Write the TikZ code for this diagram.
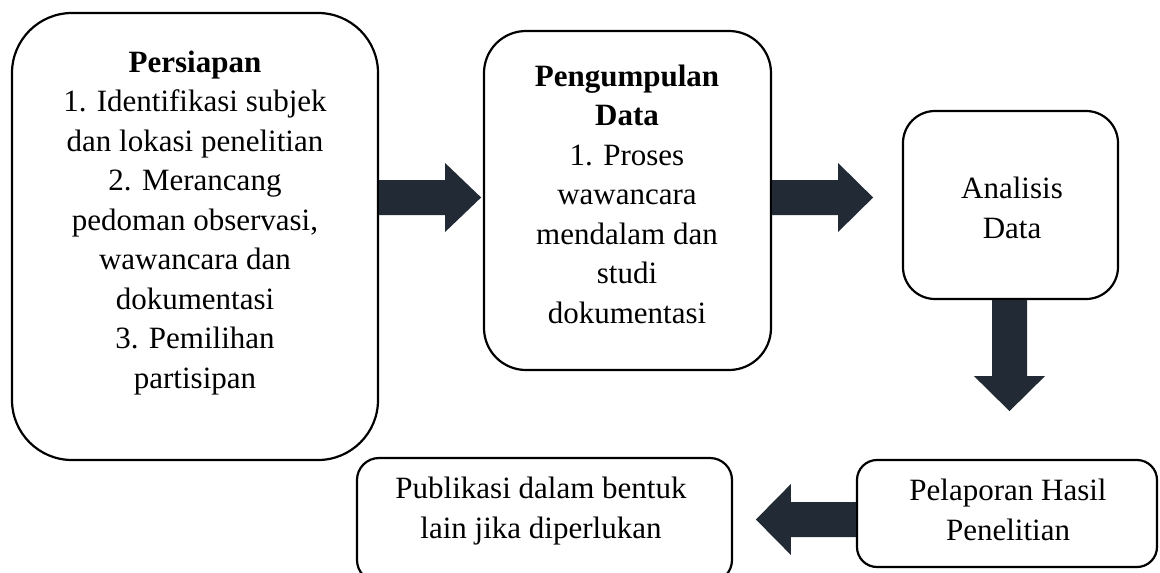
\documentclass[tikz,border=0pt]{standalone}
\usepackage{fontspec}
\setmainfont{Liberation Serif}
\usetikzlibrary{calc}
\definecolor{arrowfill}{HTML}{222A35}
\begin{document}
\begin{tikzpicture}[x=1pt,y=-1pt,
  box/.style={draw, line width=2.2pt, inner sep=0pt},
  txt/.style={align=center, font=\fontsize{31}{39.5}\selectfont, inner sep=0pt},
  bigarrow/.style={fill=arrowfill, draw=none}]
\useasboundingbox (0,0) rectangle (1160,573);
% boxes
\node[box, rounded corners=60pt, minimum width=366pt, minimum height=447pt] (persiapan) at (195,236.5) {};
\node[box, rounded corners=42pt, minimum width=287pt, minimum height=339pt] (pengumpulan) at (627.5,200.5) {};
\node[box, rounded corners=32pt, minimum width=215pt, minimum height=188pt] (analisis) at (1010.5,205) {};
\node[box, rounded corners=20pt, minimum width=300pt, minimum height=107pt] (pelaporan) at (1007,513.5) {};
\node[box, rounded corners=22pt, minimum width=375pt, minimum height=124pt] (publikasi) at (544.5,520) {};
% texts
\node[txt] (persiapanText) at (195,223) {\textbf{Persiapan}\\1. Identifikasi subjek\\dan lokasi penelitian\\2. Merancang\\pedoman observasi,\\wawancara dan\\dokumentasi\\3. Pemilihan\\partisipan};
\node[txt] (pengumpulanText) at (627,194) {\textbf{Pengumpulan}\\\textbf{Data}\\1. Proses\\wawancara\\mendalam dan\\studi\\dokumentasi};
\node[txt] (analisisText) at (1012,208) {Analisis\\Data};
\node[txt] (pelaporanText) at (1008,510) {Pelaporan Hasil\\Penelitian};
\node[txt] (publikasiText) at (541,511) {Publikasi dalam bentuk\\lain jika diperlukan};
% block arrows
\fill[bigarrow] ([yshift=56.5pt]persiapan.east) -- ++(66,0) -- ++(0,-17) -- ++(36,34.5) -- ++(-36,34.5) -- ++(0,-17) -- ++(-66,0) -- cycle;
\fill[bigarrow] ([yshift=20.5pt]pengumpulan.east) -- ++(66,0) -- ++(0,-17) -- ++(35,34.5) -- ++(-35,34.5) -- ++(0,-17) -- ++(-66,0) -- cycle;
\fill[bigarrow] ([xshift=-18.5pt]analisis.south) -- ++(0,76) -- ++(-18,0) -- ++(35.5,35) -- ++(35.5,-35) -- ++(-18,0) -- ++(0,-76) -- cycle;
\fill[bigarrow] ([yshift=11.5pt]pelaporan.west) -- ++(-65,0) -- ++(0,-18) -- ++(-35,35.5) -- ++(35,35.5) -- ++(0,-18) -- ++(65,0) -- cycle;
\end{tikzpicture}
\end{document}
